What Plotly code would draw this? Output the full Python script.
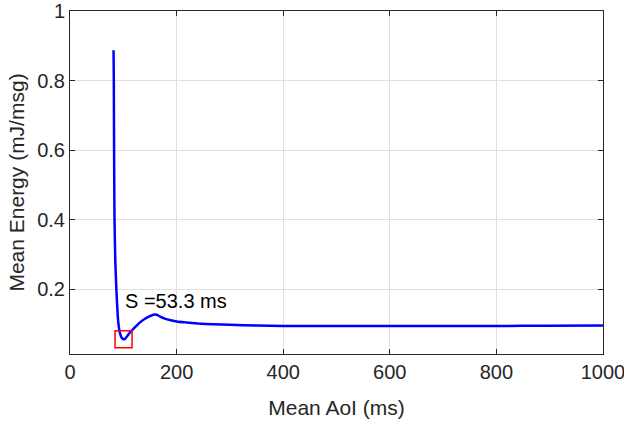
import plotly.graph_objects as go

# Data
aoi_ms = [81.7, 82.2, 82.7, 83.5, 85, 87, 88.6, 90, 91.6, 94, 97, 100.5, 104, 108, 113,
          118, 125, 132, 140, 150, 158, 163, 170, 178, 187, 200, 218, 240, 268, 300,
          350, 400, 500, 600, 700, 800, 900, 1000]
energy = [0.887, 0.80, 0.60, 0.40, 0.28, 0.20, 0.15, 0.115, 0.091, 0.072, 0.060, 0.0555,
          0.058, 0.066, 0.076, 0.084, 0.095, 0.105, 0.114, 0.122, 0.127, 0.126, 0.120,
          0.115, 0.111, 0.107, 0.104, 0.101, 0.0986, 0.097, 0.095, 0.094, 0.0935,
          0.0935, 0.0937, 0.094, 0.0945, 0.095]
min_x = [100.5]
min_y = [0.0555]
annot_text = "S =53.3 ms"
x_ticks = [0, 200, 400, 600, 800, 1000]
x_tick_labels = ["0", "200", "400", "600", "800", "1000"]
y_ticks = [0.2, 0.4, 0.6, 0.8, 1]
y_tick_labels = ["0.2", "0.4", "0.6", "0.8", "1"]

FONT = "Liberation Sans, Arial, Helvetica, sans-serif"
TXT = "#262626"

fig = go.Figure()
fig.add_trace(go.Scatter(x=aoi_ms, y=energy, mode="lines",
                         line=dict(color="#0000ff", width=2.5, shape="spline", smoothing=0.5),
                         showlegend=False))
fig.add_trace(go.Scatter(x=min_x, y=min_y, mode="markers",
                         marker=dict(symbol="square-open", size=17,
                                     line=dict(color="#ff0000", width=1.5), color="#ff0000"),
                         showlegend=False))
fig.add_annotation(x=98.6, y=0.1655, text=annot_text, showarrow=False,
                   xanchor="left", yanchor="middle",
                   font=dict(family=FONT, size=20, color="#000000"))

axis_common = dict(showline=True, linecolor=TXT, linewidth=1, mirror="ticks",
                   ticks="inside", ticklen=5, tickcolor=TXT,
                   showgrid=True, gridcolor="#e0e0e0", gridwidth=1, zeroline=False,
                   ticklabeloverflow="allow", automargin=False,
                   tickfont=dict(family=FONT, size=20, color=TXT))

fig.update_xaxes(range=[0, 1000.001], tickvals=x_ticks, ticktext=x_tick_labels,
                 title=dict(text="Mean AoI (ms)", font=dict(family=FONT, size=21, color=TXT), standoff=18),
                 **axis_common)
fig.update_yaxes(range=[0.0132, 1.00001], tickvals=y_ticks, ticktext=y_tick_labels,
                 title=dict(text="Mean Energy (mJ/msg)", font=dict(family=FONT, size=21, color=TXT), standoff=6),
                 **axis_common)

fig.update_layout(width=624, height=424,
                  margin=dict(l=70, r=21, t=11, b=70, autoexpand=False),
                  plot_bgcolor="white", paper_bgcolor="white",
                  font=dict(family=FONT, color=TXT))

fig.write_html("out.html")
